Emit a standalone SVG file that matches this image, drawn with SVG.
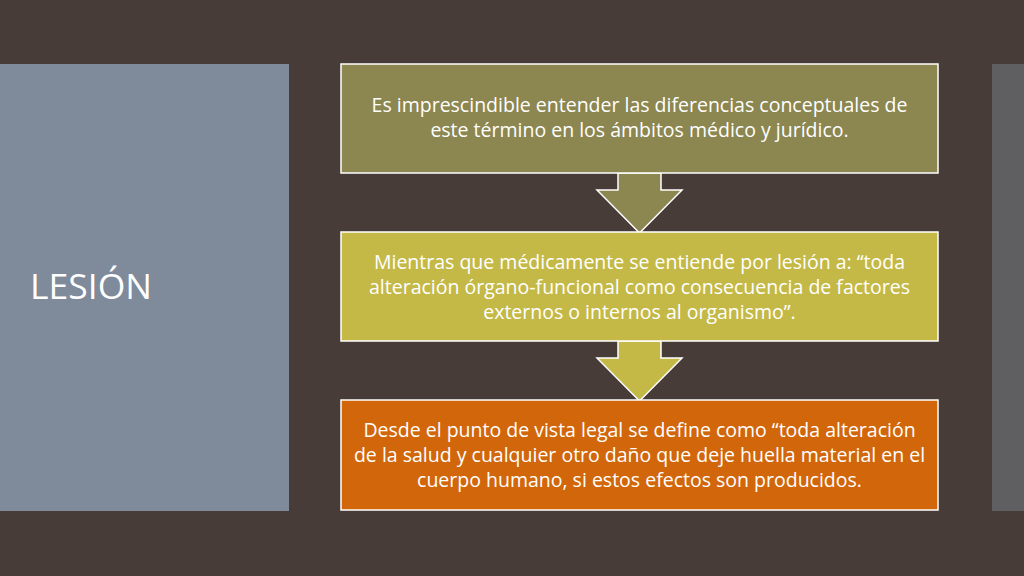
<svg xmlns="http://www.w3.org/2000/svg" width="1024" height="576" viewBox="0 0 1024 576">
<style>
.box{stroke:#FFFFFF;stroke-width:1.5}
.arrow{stroke:#FFFFFF;stroke-width:1.5;stroke-linejoin:miter}
.t{font-family:"Open Sans","Liberation Sans",sans-serif;font-size:19.5px;fill:#FFFFFF;text-anchor:middle}
</style>
<rect x="0" y="0" width="1024" height="576" fill="#483C38"/>
<g id="title-panel">
<rect x="0" y="64" width="289" height="447" fill="#7F8A9A"/>
<text x="30" y="299" font-family="'Open Sans','Liberation Sans',sans-serif" font-size="35.5" fill="#FFFFFF">LESIÓN</text>
</g>
<g id="side-panel">
<rect x="992" y="64" width="32" height="447" fill="#5F5F61"/>
</g>
<g id="connectors">
<polygon class="arrow" fill="#8C8650" points="618,173 661,173 661,190 682,190 639.5,233 597,190 618,190"/>
<polygon class="arrow" fill="#C4B947" points="618,341 661,341 661,358 682,358 639.5,401 597,358 618,358"/>
</g>
<g id="node1">
<rect class="box" x="341" y="64" width="597" height="109" fill="#8C8650"/>
<text class="t" x="639.5" y="112">Es imprescindible entender las diferencias conceptuales de</text>
<text class="t" x="639.5" y="137">este término en los ámbitos médico y jurídico.</text>
</g>
<g id="node2">
<rect class="box" x="341" y="232" width="597" height="109" fill="#C4B947"/>
<text class="t" x="639.5" y="269">Mientras que médicamente se entiende por lesión a: “toda</text>
<text class="t" x="639.5" y="294">alteración órgano-funcional como consecuencia de factores</text>
<text class="t" x="639.5" y="319">externos o internos al organismo”.</text>
</g>
<g id="node3">
<rect class="box" x="341" y="400" width="597" height="110" fill="#D2660A"/>
<text class="t" x="639.5" y="437">Desde el punto de vista legal se define como “toda alteración</text>
<text class="t" x="639.5" y="462">de la salud y cualquier otro daño que deje huella material en el</text>
<text class="t" x="639.5" y="487">cuerpo humano, si estos efectos son producidos.</text>
</g>
</svg>
